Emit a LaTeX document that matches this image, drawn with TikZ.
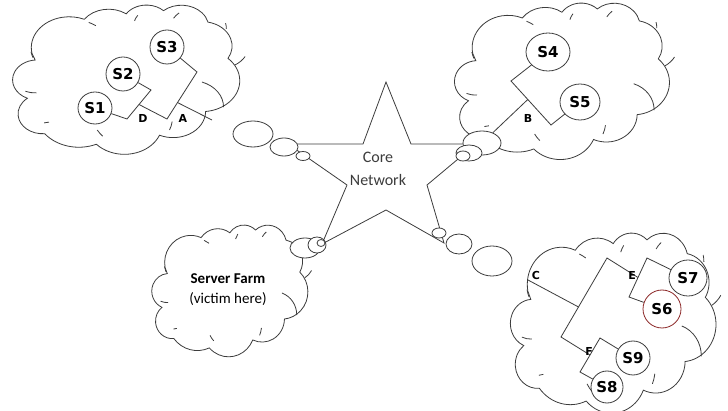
\documentclass[tikz,border=0pt]{standalone}
\usepackage{fontspec}
\setmainfont{Carlito}
\newfontfamily\srvfont{DejaVu Sans}
\usepackage{tikz}
\usetikzlibrary{shapes.geometric}
\usetikzlibrary{calc}
\usetikzlibrary{positioning}

\definecolor{victimred}{RGB}{140,40,40}
\definecolor{pen}{RGB}{60,60,60}

% cloud outline on a 432 x 432 grid, placed at #1,#2 with size #3 x #4
\newcommand{\lancloud}[4]{%
	\begin{scope}[shift={(#1,#2)},xscale=#3/432,yscale=#4/432]
		\draw[fill=white] (39.00,143.70)
			arc[x radius=67.53,y radius=91.90,start angle=-190.49,delta angle=123.78]
			arc[x radius=53.33,y radius=72.67,start angle=-144.10,delta angle=89.95]
			arc[x radius=43.65,y radius=59.45,start angle=-145.81,delta angle=99.72]
			arc[x radius=48.57,y radius=65.95,start angle=-130.99,delta angle=117.24]
			arc[x radius=53.33,y radius=72.73,start angle=-78.71,delta angle=109.03]
			arc[x radius=67.75,y radius=92.20,start angle=-46.27,delta angle=130.27]
			arc[x radius=57.85,y radius=78.67,start angle=0.63,delta angle=114.03]
			arc[x radius=67.52,y radius=92.15,start angle=22.45,delta angle=115.17]
			arc[x radius=77.20,y radius=105.43,start angle=66.24,delta angle=75.71]
			arc[x radius=43.60,y radius=59.18,start angle=-274.94,delta angle=146.74]
			arc[x radius=43.45,y radius=59.45,start angle=-246.83,delta angle=152.52]
			-- cycle;
		\draw (46.93,261.77) arc[x radius=43.45,y radius=59.45,start angle=86.74,delta angle=26.43]
			(69.28,348.99) arc[x radius=43.60,y radius=59.18,start angle=73.61,delta angle=11.45]
			(164.78,390.90) arc[x radius=67.52,y radius=92.15,start angle=137.62,delta angle=14.08]
			(288.27,347.51) arc[x radius=67.52,y radius=92.15,start angle=6.45,delta angle=16.00]
			(341.29,229.54) arc[x radius=57.85,y radius=78.67,start angle=-70.29,delta angle=70.92]
			(417.98,153.54) arc[x radius=53.33,y radius=72.73,start angle=30.32,delta angle=27.75]
			(383.24,54.26) arc[x radius=48.57,y radius=65.95,start angle=-13.74,delta angle=14.86]
			(290.78,39.52) arc[x radius=48.57,y radius=65.95,start angle=-149.18,delta angle=18.20]
			(221.41,47.20) arc[x radius=43.65,y radius=59.45,start angle=-163.49,delta angle=17.69]
			(140.00,51.92) arc[x radius=67.53,y radius=91.90,start angle=-66.71,delta angle=12.32]
			(41.27,157.89) arc[x radius=67.53,y radius=91.90,start angle=157.65,delta angle=11.86];
	\end{scope}}

\begin{document}
\begin{tikzpicture}[x=1pt,y=-1pt,line width=0.8pt,draw=pen,
	bubble/.style={draw,ellipse,fill=white,inner sep=0pt},
	srv/.style={draw,ellipse,fill=white,inner sep=0pt,font=\srvfont\bfseries\fontsize{15}{17}\selectfont},
	tag/.style={font=\srvfont\bfseries\fontsize{11}{12}\selectfont,inner sep=1pt}]

	\useasboundingbox (0,0) rectangle (728,411);

	% the four clouds
	\lancloud{10}{5}{243}{145}
	\lancloud{452}{3}{230}{152}
	\lancloud{150}{225}{167}{128}
	\lancloud{508}{233}{220}{175}

	% core network star
	\coordinate (st) at (386,82);
	\coordinate (sul) at (363,144);
	\coordinate (sl) at (288,144);
	\coordinate (sil) at (347,185);
	\coordinate (sbl) at (322,244);
	\coordinate (sb) at (386,210);
	\coordinate (sbr) at (444,243);
	\coordinate (sir) at (427,185);
	\coordinate (sr) at (476,144);
	\coordinate (sur) at (411,144);
	\draw (st) -- (sul) -- (sl) -- (sil) -- (sbl) -- (sb) -- (sbr) -- (sir) -- (sr) -- (sur) -- cycle;
	\node[align=center,font=\fontsize{16}{23}\selectfont,text=pen] (core) at (378,169) {Core\\Network};

	% bubbles between the star and each cloud
	\node[bubble,minimum width=40pt,minimum height=26pt] (b1a) at (253,134) {};
	\node[bubble,minimum width=28pt,minimum height=18pt] (b1b) at (284,147) {};
	\node[bubble,minimum width=14pt,minimum height=9pt] (b1c) at (303,156) {};

	\node[bubble,minimum width=38pt,minimum height=24pt] (b2a) at (482,143) {};
	\node[bubble,minimum width=26pt,minimum height=16pt] (b2b) at (469,153) {};
	\node[bubble,minimum width=14pt,minimum height=10pt] (b2c) at (463,156) {};

	\node[bubble,minimum width=30pt,minimum height=20pt] (b3a) at (305,248) {};
	\node[bubble,minimum width=18pt,minimum height=16pt] (b3b) at (317,245) {};
	\node[bubble,minimum width=8pt,minimum height=7pt] (b3c) at (321,243) {};

	\node[bubble,minimum width=14pt,minimum height=10pt] (b4c) at (439,233) {};
	\node[bubble,minimum width=26pt,minimum height=20pt] (b4b) at (459,244) {};
	\node[bubble,minimum width=40pt,minimum height=30pt] (b4a) at (492,261) {};

	\node[align=center,font=\fontsize{15}{20}\selectfont] (victim) at (228,290) {\textbf{Server Farm}\\(victim here)};

	% upper left site
	\node[srv,minimum width=34pt,minimum height=32pt] (s1) at (95,108) {S1};
	\node[srv,minimum size=34pt] (s2) at (123,74) {S2};
	\node[srv,minimum size=34pt] (s3) at (167,47) {S3};
	\coordinate (d1) at (127,119);
	\coordinate (d2) at (151,90);
	\coordinate (dm) at ($(d1)!0.5!(d2)$);
	\coordinate (a1) at (167,119);
	\coordinate (a2) at (197,72);
	\coordinate (am) at ($(a1)!0.35!(a2)$);
	\coordinate (aend) at (212,120);
	\draw (s1) -- (d1) -- (d2) -- (s2);
	\draw (dm) -- (a1) -- (a2) -- (s3);
	\draw (am) -- (aend);
	\node[tag] (tagD) at (143,118) {D};
	\node[tag] (tagA) at (183,118) {A};

	% upper right site
	\node[srv,minimum width=44pt,minimum height=38pt] (s4) at (548,52) {S4};
	\node[srv,minimum width=40pt,minimum height=36pt] (s5) at (580,102) {S5};
	\coordinate (e4) at (511,81);
	\coordinate (e5) at (551,125);
	\coordinate (bm) at ($(e4)!0.42!(e5)$);
	\draw (s4) -- (e4) -- (e5) -- (s5);
	\draw (bm) -- (b2a);
	\node[tag] (tagB) at (528,118) {B};

	% lower right site
	\node[srv,draw=victimred,minimum size=38pt] (s6) at (662,309) {S6};
	\node[srv,minimum width=38pt,minimum height=36pt] (s7) at (688,278) {S7};
	\node[srv,minimum size=32pt] (s8) at (607,387) {S8};
	\node[srv,minimum size=34pt] (s9) at (633,358) {S9};
	\coordinate (g1) at (607,258);
	\coordinate (g2) at (561,337);
	\coordinate (gm) at ($(g1)!0.62!(g2)$);
	\coordinate (cend) at (528,280);
	\coordinate (e1) at (647,258);
	\coordinate (e2) at (629,297);
	\coordinate (em) at ($(e1)!0.5!(e2)$);
	\coordinate (f1) at (600,338);
	\coordinate (f2) at (580,372);
	\coordinate (fm) at ($(f1)!0.5!(f2)$);
	\draw (em) -- (g1) -- (g2) -- (fm);
	\draw (gm) -- (cend);
	\draw (s7) -- (e1) -- (e2) -- (s6);
	\draw (s9) -- (f1) -- (f2) -- (s8);
	\node[tag] (tagC) at (536,275) {C};
	\node[tag] (tagE) at (632,275) {E};
	\node[tag] (tagF) at (589,351) {F};
\end{tikzpicture}
\end{document}
